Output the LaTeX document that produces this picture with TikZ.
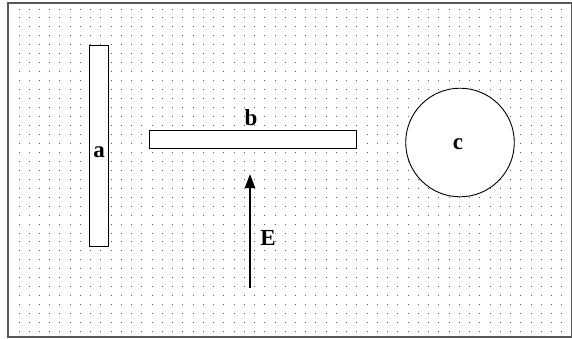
\documentclass[tikz,border=0pt]{standalone}
\usepackage{fontspec}
\setmainfont{Liberation Serif}
\usetikzlibrary{arrows.meta}
\begin{document}
\begin{tikzpicture}[
    x=1pt, y=-1pt,
    every node/.style={font=\bfseries\fontsize{23}{25}\selectfont},
    plate/.style={rectangle, draw=black, fill=white, line width=0.9pt, inner sep=0pt},
    field/.style={-{Triangle[length=14pt, width=10pt]}, line width=2pt},
    gridpt/.style={fill=black!65},
    ]
    \useasboundingbox (0,0) rectangle (572,338);
    % Frame and dot grid
    \draw[black!65, line width=1.5pt] (8,3) rectangle (572,337);
    \foreach \i in {0,...,53} {
      \foreach \j in {0,...,36} {
        \fill[gridpt] ({19+10.24*\i-0.5},{9+8.96*\j-0.5}) rectangle ++(1,1);
      }
    }
    % Plates
    \node[plate, minimum width=19.5pt, minimum height=201pt] (a) at (98.75,145.5) {};
    \node[plate, minimum width=206.7pt, minimum height=17.7pt] (b) at (252.7,139.2) {};
    \node[plate, circle, minimum size=108.6pt] (c) at (460,142.5) {};
    % Labels
    \node (la) at (99,152) {a};
    \node (lb) at (251,118) {b};
    \node (lc) at (458,144) {c};
    % Field
    \coordinate (Etail) at (250,288);
    \coordinate (Etip) at (250,174);
    \draw[field] (Etail) -- (Etip);
    \node (lE) at (268,238) {E};
\end{tikzpicture}
\end{document}
